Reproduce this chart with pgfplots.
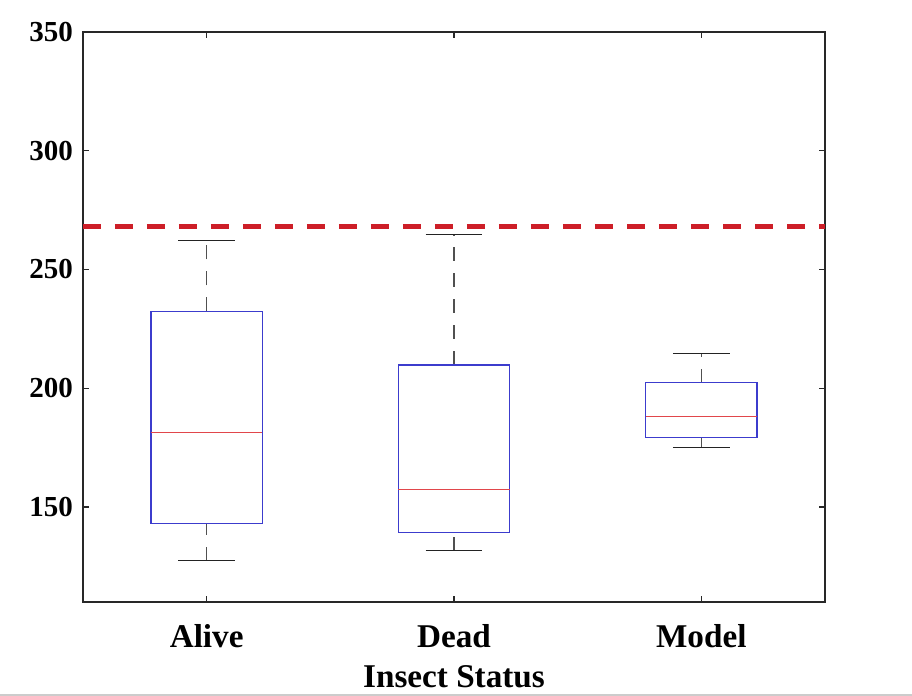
\documentclass[border=0pt]{standalone}
\usepackage{pgfplots}
\pgfplotsset{compat=1.18}
\usepackage{fontspec}
\setmainfont{Liberation Serif}
\definecolor{boxblue}{RGB}{60,60,205}
\definecolor{medred}{RGB}{225,70,75}
\definecolor{whiskgray}{RGB}{80,80,80}
\definecolor{capgray}{RGB}{35,35,35}
\definecolor{limred}{RGB}{205,30,40}
\definecolor{axgray}{RGB}{40,40,40}
\begin{document}
\begin{tikzpicture}
\path[use as bounding box] (-41.5pt,-47pt) rectangle (414.5pt,301pt);
\begin{axis}[
  at={(0pt,0pt)}, anchor=south west,
  scale only axis,
  width=371pt, height=285pt,
  xmin=0.5, xmax=3.5,
  ymin=110, ymax=350,
  xtick={1,2,3},
  xticklabels={Alive,Dead,Model},
  ytick={150,200,250,300,350},
  major tick length=3pt,
  tick align=inside,
  axis line style={color=axgray, line width=0.8pt},
  tick style={color=axgray, line width=0.6pt},
  /pgf/number format/assume math mode=true,
  yticklabel style={font=\bfseries\fontsize{14.5}{16}\selectfont, xshift=-1.5pt},
  xticklabel style={font=\bfseries\fontsize{16.6}{18}\selectfont, anchor=base, yshift=-23pt},
  xlabel={Insect Status},
  xlabel style={font=\bfseries\fontsize{16.6}{18}\selectfont, at={(axis description cs:0.5,0)}, anchor=base, yshift=-42.7pt},
  box/.style={draw=boxblue, line width=0.6pt, line join=miter, line cap=rect},
  med/.style={draw=medred, line width=0.6pt},
  whisk/.style={draw=whiskgray, line width=0.6pt, dash pattern=on 7pt off 6pt},
  cap/.style={draw=capgray, line width=0.55pt},
]
% Alive: lw 127.3, q1 143.1, med 181.3, q3 232.4, uw 262.2
\addplot[whisk] coordinates {(1,232.4) (1,262.2)};
\addplot[whisk] coordinates {(1,127.3) (1,143.1)};
\addplot[cap] coordinates {(0.885,262.2) (1.115,262.2)};
\addplot[cap] coordinates {(0.885,127.3) (1.115,127.3)};
\addplot[box] coordinates {(0.775,143.1) (1.225,143.1) (1.225,232.4) (0.775,232.4) (0.775,143.1)};
\addplot[med] coordinates {(0.775,181.3) (1.225,181.3)};
% Dead: lw 131.5, q1 139.2, med 157.2, q3 209.8, uw 264.7
\addplot[whisk] coordinates {(2,209.8) (2,264.7)};
\addplot[whisk] coordinates {(2,131.5) (2,139.2)};
\addplot[cap] coordinates {(1.885,264.7) (2.115,264.7)};
\addplot[cap] coordinates {(1.885,131.5) (2.115,131.5)};
\addplot[box] coordinates {(1.775,139.2) (2.225,139.2) (2.225,209.8) (1.775,209.8) (1.775,139.2)};
\addplot[med] coordinates {(1.775,157.2) (2.225,157.2)};
% Model: lw 175.2, q1 179.2, med 188.2, q3 202.4, uw 214.8
\addplot[whisk] coordinates {(3,202.4) (3,214.8)};
\addplot[whisk] coordinates {(3,175.2) (3,179.2)};
\addplot[cap] coordinates {(2.885,214.8) (3.115,214.8)};
\addplot[cap] coordinates {(2.885,175.2) (3.115,175.2)};
\addplot[box] coordinates {(2.775,179.2) (3.225,179.2) (3.225,202.4) (2.775,202.4) (2.775,179.2)};
\addplot[med] coordinates {(2.775,188.2) (3.225,188.2)};
% threshold
\addplot[limred, line width=2.5pt, dash pattern=on 9pt off 7pt] coordinates {(0.5,268.2) (3.5,268.2)};
\end{axis}
\draw[gray!40, line width=0.8pt] (-41.5pt,-46.6pt) -- (414.5pt,-46.6pt);
\end{tikzpicture}
\end{document}
